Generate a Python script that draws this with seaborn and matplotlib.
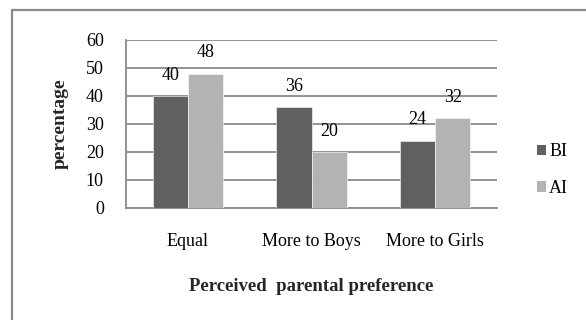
import matplotlib
matplotlib.use("Agg")
import matplotlib.pyplot as plt
import seaborn as sns
import pandas as pd
from matplotlib.lines import Line2D
from matplotlib.patches import Patch

categories = ["Equal", "More to Boys", "More to Girls"]
bi_values = [40, 36, 24]
ai_values = [48, 20, 32]
series_names = ["BI", "AI"]
y_ticks = [0, 10, 20, 30, 40, 50, 60]

df = pd.DataFrame({
    "category": categories * 2,
    "series": [series_names[0]] * 3 + [series_names[1]] * 3,
    "value": bi_values + ai_values,
})

sns.set_theme(style="white")
FAMILY = ["Liberation Serif", "DejaVu Serif"]
plt.rcParams["font.family"] = FAMILY

W, H = 586, 320
fig = plt.figure(figsize=(W / 100, H / 100), dpi=100)
ax = fig.add_axes([126 / W, 1 - 208 / H, (497 - 126) / W, (208 - 40) / H])

colors = {"BI": "#606060", "AI": "#b3b3b3"}
sns.barplot(data=df, x="category", y="value", hue="series", order=categories,
            hue_order=series_names, palette=colors, width=0.57, ax=ax,
            legend=False, edgecolor="white", linewidth=0.4, zorder=3)

GRID = "#8a8a8a"
ax.set_ylim(0, 60)
ax.set_yticks(y_ticks)
ax.set_xlim(-0.5, 2.5)
ax.yaxis.grid(True, color=GRID, linewidth=1.3, zorder=0)
ax.set_axisbelow(True)
for s in ["top", "right"]:
    ax.spines[s].set_visible(False)
for s in ["left", "bottom"]:
    ax.spines[s].set_color(GRID)
    ax.spines[s].set_linewidth(1.3)

ax.tick_params(axis="y", length=3, width=1.3, color=GRID, direction="out",
               pad=13, labelsize=13, labelcolor="black")
ax.tick_params(axis="x", length=0, pad=18, labelsize=13, labelcolor="black")
# category boundary ticks
ax.set_xticks([-0.5, 0.5, 1.5, 2.5], minor=True)
ax.tick_params(axis="x", which="minor", length=3, width=1.3, color=GRID, direction="out")

for container in ax.containers:
    ax.bar_label(container, fmt="%d", padding=9, fontsize=13, color="black")

ax.set_ylabel("percentage", fontsize=14, fontweight="bold", labelpad=12)
ax.set_xlabel("Perceived  parental preference", fontsize=13.5, fontweight="bold", labelpad=20)

handles = [Patch(facecolor=colors[n], edgecolor="none") for n in series_names]
leg = fig.legend(handles, series_names, loc="center left", bbox_to_anchor=(537 / W, 1 - 170 / H),
                 frameon=False, fontsize=13,
                 handlelength=0.5, handleheight=0.5,
                 handletextpad=0.17, labelspacing=1.1, borderpad=0, borderaxespad=0)
for t in leg.get_texts():
    t.set_fontfamily("Liberation Serif")
    t.set_color("black")

# outer frame (left and top edges)
fig.add_artist(Line2D([11.5 / W, 11.5 / W], [0, 1 - 10 / H], transform=fig.transFigure,
                      color=GRID, linewidth=1.6))
fig.add_artist(Line2D([11.5 / W, 1], [1 - 10 / H, 1 - 10 / H], transform=fig.transFigure,
                      color=GRID, linewidth=1.6))

fig.savefig("out.png", dpi=100)
